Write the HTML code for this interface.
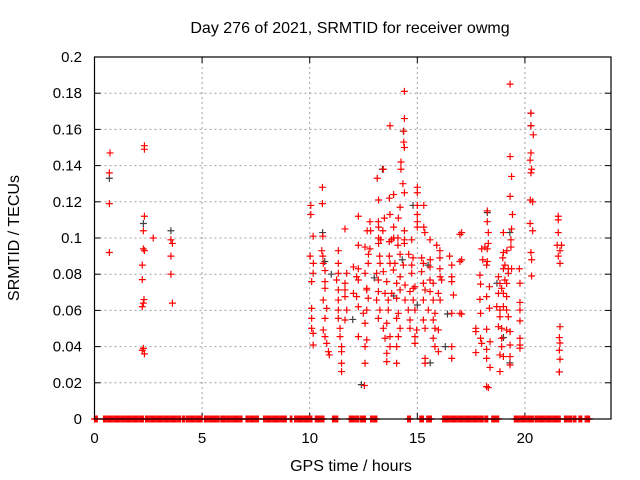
<!DOCTYPE html>
<html><head><meta charset="utf-8"><style>
html,body{margin:0;padding:0;background:#fff}
svg{display:block;font-family:"Liberation Sans",sans-serif}
</style></head><body>
<svg id="chart" width="640" height="480" viewBox="0 0 640 480" xmlns="http://www.w3.org/2000/svg">
<rect x="0" y="0" width="640" height="480" fill="#fff"/>
<text x="350" y="33" font-size="16" text-anchor="middle" fill="#000">Day 276 of 2021, SRMTID for receiver owmg</text>
<g id="grid"></g>
<g id="ticks"></g>
<g id="zeros"></g>
<g id="blackpts"></g>
<g id="redpts"></g>
<rect x="94.5" y="57" width="516.5" height="362" fill="none" stroke="#000" stroke-width="1.2"/>
<text x="351" y="471" font-size="16" text-anchor="middle" fill="#000">GPS time / hours</text>
<text x="0" y="0" font-size="16" text-anchor="middle" fill="#000" transform="translate(19,238) rotate(-90)">SRMTID / TECUs</text>
</svg>
<script>
const xTicks=[0,5,10,15,20];
const yTicks=[0,0.02,0.04,0.06,0.08,0.1,0.12,0.14,0.16,0.18,0.2];
const yTickLabels=["0","0.02","0.04","0.06","0.08","0.1","0.12","0.14","0.16","0.18","0.2"];
const zeroRanges=[[0,0.13],[0.42,1.34],[1.38,2.27],[2.37,4.0],[4.09,4.2],[4.28,5.0],[5.11,5.6],[5.65,5.79],[5.87,6.24],[6.3,6.85],[7.04,7.4],[7.46,7.62],[7.86,8.73],[8.78,8.91],[9.1,9.17],[9.3,10.1],[10.26,10.66],[11.06,11.3],[11.84,12.27],[12.35,12.59],[12.83,13.12],[14.55,14.68],[15.12,15.28],[15.44,15.65],[16.18,18.06],[18.14,18.27],[18.46,18.78],[19.51,19.91],[19.96,20.39],[20.47,21.64],[21.84,22.16],[22.24,22.37],[22.51,22.64],[22.8,23.0]];
const redHours=[0.72,0.69,0.69,0.69,2.32,2.32,2.32,2.27,2.27,2.32,2.22,2.22,2.30,2.27,2.22,2.27,2.32,2.22,2.73,3.55,3.62,3.55,3.55,3.62,
14.40,14.40,13.73,14.37,14.37,14.40,14.24,14.24,13.42,13.14,10.59,14.33,14.40,15.0,15.0,10.05,10.59,13.2,13.7,13.9,14.2,15.0,15.3,10.05,12.26,12.80,13.19,13.47,13.73,14.12,15.0,15.0,11.64,12.67,12.83,13.2,13.4,13.9,14.4,15.0,15.3,15.35,16.98,10.16,10.61,13.2,13.3,13.8,13.9,14.1,14.4,14.74,15.59,15.9,16.05,12.26,12.57,12.8,13.2,13.7,14.1,14.4,10.02,10.56,11.33,10.61,12.73,13.25,13.7,14.2,14.6,14.8,15.2,15.6,16.05,16.5,16.98,
10.17,10.63,11.33,12.03,12.26,12.72,13.27,13.73,13.96,14.35,14.74,15.28,15.59,16.05,16.6,
10.16,10.71,11.33,11.72,12.18,12.57,13.11,13.42,13.89,14.20,14.74,15.20,15.59,16.06,16.60,
10.09,10.71,11.25,11.64,12.26,12.65,13.19,13.58,14.04,14.43,14.89,15.28,15.74,16.13,16.60,
10.71,11.33,11.64,12.03,12.65,13.19,13.50,13.81,14.20,14.66,14.81,15.36,15.59,15.98,16.68,
10.63,11.33,11.64,12.18,12.72,13.11,13.65,14.04,14.43,14.81,15.28,15.74,16.06,
10.09,10.79,11.33,11.72,12.26,12.65,13.26,13.65,14.12,14.58,14.89,15.51,15.82,16.60,16.98,
10.09,10.71,11.33,11.64,12.49,13.19,13.58,14.04,14.66,15.28,15.74,
10.09,10.63,11.41,12.57,13.42,14.20,14.66,14.97,15.36,15.82,15.98,
10.16,10.71,11.41,12.26,12.65,13.50,13.73,14.12,14.89,15.74,
10.16,10.79,11.48,12.57,13.73,14.04,14.89,15.82,16.60,
10.87,11.48,13.58,15.98,15.36,10.91,11.48,12.57,13.58,14.04,15.36,16.60,11.48,12.54,18.30,
19.31,20.28,20.28,20.39,19.31,19.38,19.31,19.42,20.28,20.24,20.31,20.28,20.25,20.36,18.25,18.25,18.30,18.30,17.99,18.14,18.25,18.04,18.25,18.22,19.0,19.38,19.35,19.35,19.0,19.16,18.97,19.07,19.0,19.23,19.38,19.74,20.28,20.31,20.31,20.24,20.36,
21.55,21.55,21.55,21.5,21.7,21.63,21.55,21.63,21.63,21.6,21.63,21.6,21.63,21.6,
17.91,17.94,18.35,18.22,17.91,18.35,17.94,17.72,17.72,18.22,17.94,17.99,18.38,17.72,18.22,18.22,18.38,18.22,
18.77,18.84,18.92,19.15,19.0,19.15,18.69,18.84,19.0,19.15,19.23,18.84,18.77,18.92,19.15,19.31,18.92,19.31,18.84,19.0,19.31,19.31,18.84,18.92,18.77,19.07,19.23,
19.77,19.77,19.77,19.77,19.77,19.77,19.77,17.06,17.06,17.06];
const redValues=[0.147,0.136,0.119,0.092,0.151,0.149,0.112,0.104,0.094,0.093,0.085,0.077,0.066,0.064,0.062,0.039,0.036,0.038,0.100,0.099,0.097,0.090,0.080,0.064,
0.181,0.166,0.162,0.159,0.153,0.150,0.142,0.138,0.138,0.133,0.128,0.130,0.125,0.128,0.125,0.118,0.119,0.121,0.122,0.124,0.117,0.118,0.118,0.113,0.112,0.109,0.109,0.111,0.113,0.111,0.113,0.109,0.105,0.104,0.104,0.106,0.104,0.106,0.104,0.106,0.106,0.103,0.102,0.101,0.101,0.100,0.099,0.099,0.100,0.100,0.099,0.099,0.099,0.096,0.093,0.096,0.095,0.094,0.097,0.098,0.096,0.097,0.090,0.093,0.093,0.090,0.091,0.090,0.090,0.091,0.091,0.089,0.089,0.088,0.089,0.090,0.087,
0.086,0.086,0.086,0.084,0.083,0.086,0.086,0.086,0.086,0.085,0.085,0.086,0.084,0.083,0.085,
0.0805,0.082,0.0805,0.0805,0.0786,0.0805,0.0805,0.0814,0.0823,0.0786,0.0805,0.0814,0.0768,0.0786,0.0786,
0.0759,0.0759,0.0768,0.0750,0.0768,0.0722,0.0768,0.0759,0.0750,0.0740,0.0731,0.0750,0.0750,0.0768,0.0759,
0.0722,0.0713,0.0713,0.0694,0.0713,0.0704,0.0694,0.0694,0.0713,0.0704,0.0722,0.0713,0.0704,0.0694,0.0685,
0.0657,0.0657,0.0676,0.0676,0.0667,0.0657,0.0657,0.0667,0.0657,0.0657,0.0657,0.0657,0.0657,
0.0611,0.0611,0.0602,0.0602,0.0620,0.0602,0.0602,0.0602,0.0584,0.0602,0.0602,0.0602,0.0584,0.0584,0.0584,
0.0556,0.0556,0.0556,0.0547,0.0584,0.0556,0.0529,0.0556,0.0547,0.0547,0.0547,
0.0501,0.0492,0.0501,0.0529,0.0501,0.0501,0.0501,0.0492,0.0501,0.0501,0.0492,
0.0473,0.0455,0.0455,0.0455,0.0437,0.0446,0.0455,0.0455,0.0455,0.0446,
0.0409,0.0418,0.0400,0.0400,0.0400,0.0400,0.0418,0.0400,0.0400,
0.0372,0.0372,0.0363,0.0372,0.0335,0.0354,0.0308,0.0308,0.0317,0.0308,0.0308,0.0335,0.0262,0.0185,0.0173,
0.185,0.169,0.162,0.157,0.145,0.134,0.123,0.113,0.147,0.143,0.138,0.136,0.121,0.120,0.115,0.109,0.103,0.097,0.094,0.095,0.094,0.088,0.087,0.085,0.103,0.105,0.099,0.095,0.092,0.093,0.089,0.085,0.083,0.083,0.083,0.083,0.092,0.088,0.079,0.108,0.104,
0.112,0.110,0.103,0.096,0.096,0.093,0.090,0.086,0.051,0.045,0.042,0.038,0.033,0.026,
0.0795,0.0745,0.0731,0.0676,0.0661,0.0612,0.0584,0.0501,0.0483,0.0496,0.0446,0.0418,0.0427,0.0367,0.0385,0.0335,0.0285,0.0179,
0.0786,0.0749,0.0722,0.0749,0.0694,0.0676,0.0621,0.0602,0.0621,0.0602,0.0565,0.0565,0.0510,0.0501,0.0492,0.0483,0.0446,0.0409,0.0354,0.0345,0.0345,0.0299,0.0262,0.0400,0.0694,0.0768,0.0805,
0.0750,0.0644,0.0602,0.0542,0.0446,0.0409,0.0391,0.103,0.088,0.058];
const blackHours=[0.69,3.55,2.27,10.6,14.35,13.38,14.8,12.4,18.25,19.3,20.28,20.28,19.3,21.6,15.6,15.5,14.3,13.0,11.0,16.4,19.0,13.9,15.0,12.0,10.7,18.7,16.3];
const blackValues=[0.133,0.104,0.108,0.103,0.159,0.138,0.118,0.019,0.114,0.103,0.169,0.162,0.031,0.026,0.031,0.085,0.088,0.078,0.080,0.058,0.045,0.068,0.063,0.055,0.087,0.075,0.040];

const X0=94.5,X1=611,Y0=419,Y1=57,XMAX=24,YMAX=0.2;
const NS="http://www.w3.org/2000/svg";
function sx(h){return X0+(h/XMAX)*(X1-X0);}
function sy(v){return Y0-(v/YMAX)*(Y0-Y1);}
function mk(tag,attrs,parent){const e=document.createElementNS(NS,tag);for(const k in attrs)e.setAttribute(k,attrs[k]);parent.appendChild(e);return e;}
const grid=document.getElementById('grid'),ticks=document.getElementById('ticks');
yTicks.forEach((t,i)=>{
  const y=sy(t);
  if(t>0&&t<YMAX){const g=mk('line',{x1:X0,x2:X1,y1:y,y2:y,stroke:'#a0a0a0','stroke-dasharray':'2,3','stroke-width':1},grid);
  
  }
  mk('line',{x1:X0,x2:X0+6,y1:y,y2:y,stroke:'#000'},ticks);
  mk('line',{x1:X1-6,x2:X1,y1:y,y2:y,stroke:'#000'},ticks);
  const tx=mk('text',{x:82,y:y+5,'font-size':15,'text-anchor':'end',fill:'#000'},ticks);
  tx.textContent=yTickLabels[i];
  
  
});
xTicks.forEach(t=>{
  const x=sx(t);
  if(t>0){const g=mk('line',{x1:x,x2:x,y1:Y1,y2:Y0,stroke:'#a0a0a0','stroke-dasharray':'2,3','stroke-width':1},grid);
  
  }
  mk('line',{x1:x,x2:x,y1:Y0,y2:Y0-6,stroke:'#000'},ticks);
  mk('line',{x1:x,x2:x,y1:Y1,y2:Y1+6,stroke:'#000'},ticks);
  const tx=mk('text',{x:x,y:443,'font-size':15,'text-anchor':'middle',fill:'#000'},ticks);
  tx.textContent=String(t);
  
  
});
function plus(parent,h,v,color,name){
  const x=sx(h),y=sy(v);
  const p=mk('path',{d:`M${x-3.5},${y}H${x+3.5}M${x},${y-3.5}V${y+3.5}`,stroke:color,'stroke-width':1.2,fill:'none'},parent);
  
  
}
const zg=document.getElementById('zeros');
zeroRanges.forEach(r=>{
  for(let h=r[0];h<=r[1]+1e-9;h+=0.05){plus(zg,h,0,'#ff0000','zero-point');}
  plus(zg,r[1],0,'#ff0000','zero-point');
});
const bg=document.getElementById('blackpts');
blackHours.forEach((h,i)=>plus(bg,h,blackValues[i],'#404040','black-point'));
const rg=document.getElementById('redpts');
redHours.forEach((h,i)=>plus(rg,h,redValues[i],'#ff0000','red-point'));
</script>
</body></html>
